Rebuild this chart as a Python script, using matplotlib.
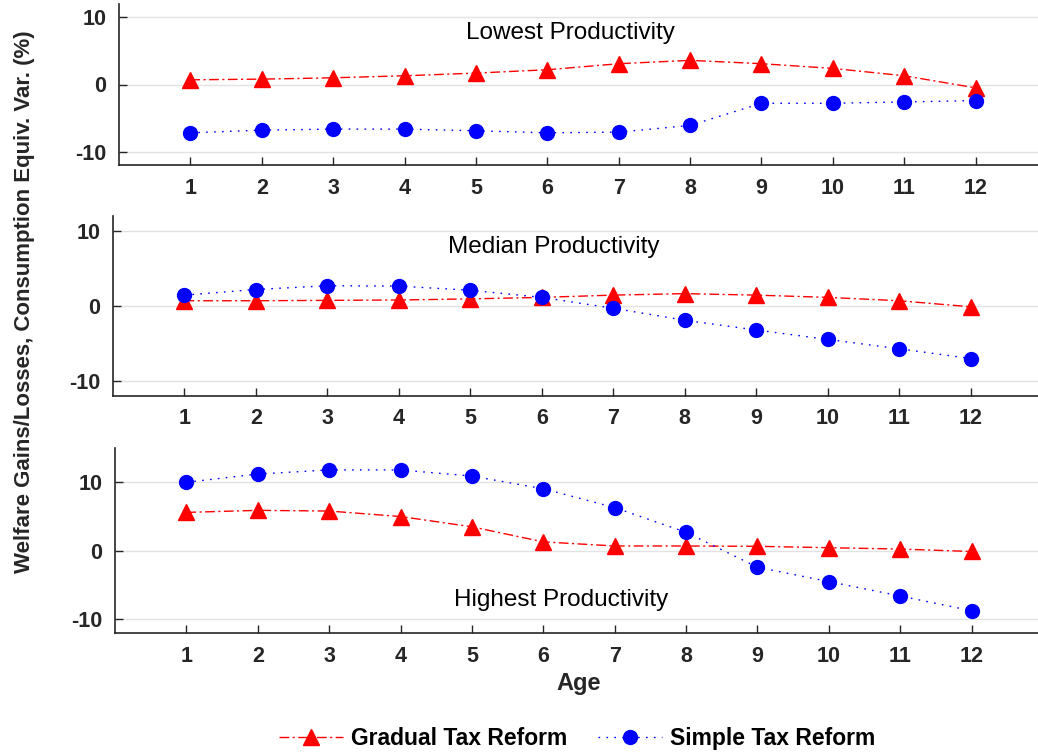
import matplotlib
matplotlib.use("Agg")
import matplotlib.pyplot as plt

plt.rcParams['font.family'] = ['Liberation Sans', 'DejaVu Sans']
plt.rcParams['axes.unicode_minus'] = False

ages = [1, 2, 3, 4, 5, 6, 7, 8, 9, 10, 11, 12]

gradual_lowest = [0.7, 0.8, 1.0, 1.3, 1.7, 2.2, 3.1, 3.6, 3.1, 2.4, 1.3, -0.5]
simple_lowest = [-7.2, -6.8, -6.65, -6.65, -6.9, -7.2, -7.1, -6.1, -2.8, -2.8, -2.6, -2.4]

gradual_median = [0.7, 0.7, 0.75, 0.8, 0.95, 1.15, 1.45, 1.65, 1.45, 1.15, 0.7, -0.1]
simple_median = [1.45, 2.2, 2.7, 2.65, 2.1, 1.15, -0.3, -1.9, -3.2, -4.45, -5.7, -7.0]

gradual_highest = [5.6, 5.9, 5.8, 5.0, 3.5, 1.3, 0.7, 0.7, 0.65, 0.45, 0.25, -0.1]
simple_highest = [10.0, 11.2, 11.8, 11.8, 10.9, 9.05, 6.3, 2.7, -2.4, -4.5, -6.6, -8.75]

panel_titles = ["Lowest Productivity", "Median Productivity", "Highest Productivity"]
series_labels = ["Gradual Tax Reform", "Simple Tax Reform"]

W, H = 1038, 754
fig = plt.figure(figsize=(W / 100, H / 100), dpi=100)

# axes boxes in pixels: left, right, top, bottom
boxes = [(119, 1047, 4, 165), (113, 1042, 216, 396), (115, 1043, 448, 633)]
ylims = [(-12, 12), (-12, 12), (-12, 15)]
title_pos = [(6.32, 7.7), (6.17, 7.9), (6.25, -7.2)]
gradual = [gradual_lowest, gradual_median, gradual_highest]
simple = [simple_lowest, simple_median, simple_highest]

axes = []
for i in range(3):
    l, r, t, b = boxes[i]
    ax = fig.add_axes([l / W, 1 - b / H, (r - l) / W, (b - t) / H])
    axes.append(ax)

    ax.plot(ages, gradual[i], color='#ff0000', lw=1.0, dashes=(7, 2.5, 1.5, 2.5),
            marker='^', ms=12, markeredgecolor='#ff0000', label=series_labels[0])
    ax.plot(ages, simple[i], color='#0000ff', lw=1.0, dashes=(1.2, 4.5),
            marker='o', ms=10, markeredgecolor='#0000ff', label=series_labels[1])

    ax.set_xlim(0, 13)
    ax.set_ylim(*ylims[i])
    ax.set_xticks(ages)
    ax.set_yticks([-10, 0, 10])
    ax.yaxis.grid(True, color='#e2e2e2', lw=1.0)
    ax.set_axisbelow(True)

    for side in ['top', 'right']:
        ax.spines[side].set_visible(False)
    for side in ['left', 'bottom']:
        ax.spines[side].set_color('#262626')
        ax.spines[side].set_linewidth(1.2)

    ax.tick_params(axis='both', direction='in', colors='#262626', length=6, width=1.0,
                   labelsize=15.5)
    ax.tick_params(axis='x', pad=9)
    ax.tick_params(axis='y', pad=9)
    for lab in ax.get_xticklabels() + ax.get_yticklabels():
        lab.set_fontweight('bold')

    tx, ty = title_pos[i]
    ax.text(tx, ty, panel_titles[i], ha='center', va='center', fontsize=17.5, color='black')

axes[2].set_xlabel("Age", fontsize=17, fontweight='bold', color='#262626')
axes[2].xaxis.set_label_coords(0.5, -0.21)

fig.text(0.024, 0.600, "Welfare Gains/Losses, Consumption Equiv. Var. (%)", rotation=90,
         ha='center', va='center', fontsize=16, fontweight='bold', color='#262626')

handles, labels = axes[0].get_legend_handles_labels()
fig.legend(handles, labels, loc='center', bbox_to_anchor=(0.556, 0.02), ncol=2,
           frameon=False, handlelength=2.8, handletextpad=0.35, columnspacing=1.3,
           prop={'size': 16.5, 'weight': 'bold'})

plt.savefig("out.png", dpi=100)
